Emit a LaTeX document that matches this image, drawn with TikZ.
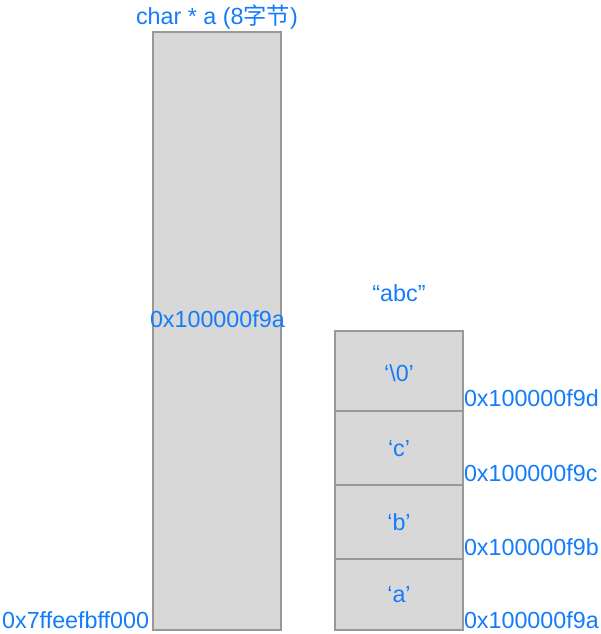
\documentclass[tikz,border=0pt]{standalone}
\usepackage{fontspec}
\setmainfont{Liberation Sans}
\newfontfamily\cjk{Noto Sans CJK SC}
\usetikzlibrary{positioning}
\definecolor{addrblue}{RGB}{20,124,250}
\definecolor{cellgray}{RGB}{216,216,216}
\definecolor{linegray}{RGB}{153,153,153}
\begin{document}
\begin{tikzpicture}[x=1pt, y=-1pt,
  font=\fontsize{23.3}{27}\selectfont,
  every node/.style={text=addrblue, inner sep=0pt, outer sep=0pt},
  mem/.style={draw=linegray, line width=2pt, fill=cellgray, minimum width=128pt, anchor=north west},
  addr/.style={anchor=west}]
\useasboundingbox (0,0) rectangle (600,634);

% pointer a on the stack
\node[mem, minimum height=598pt] (ptr) at (153,32) {};
\node at (217,17) {char * a (8{\cjk 字节})};
\node[anchor=west] (ptrval) at (150,319) {0x100000f9a};
\node[anchor=east] (ptraddr) at (149,620) {0x7ffeefbff000};

% the string "abc"
\node (str) at (399,293) {“abc”};
\node[mem, minimum height=80pt] (c0) at (335,331) {};
\node[mem, minimum height=74pt, below=0pt of c0.south west, anchor=north west] (c1) {};
\node[mem, minimum height=74pt, below=0pt of c1.south west, anchor=north west] (c2) {};
\node[mem, minimum height=71pt, below=0pt of c2.south west, anchor=north west] (c3) {};

\node at (399,373) {‘\textbackslash0’};
\node at (399,449) {‘c’};
\node at (399,522) {‘b’};
\node at (399,595) {‘a’};

\node[addr] (a0) at (464,398) {0x100000f9d};
\node[addr] (a1) at (464,473) {0x100000f9c};
\node[addr] (a2) at (464,547) {0x100000f9b};
\node[addr] (a3) at (464,620) {0x100000f9a};
\end{tikzpicture}
\end{document}
